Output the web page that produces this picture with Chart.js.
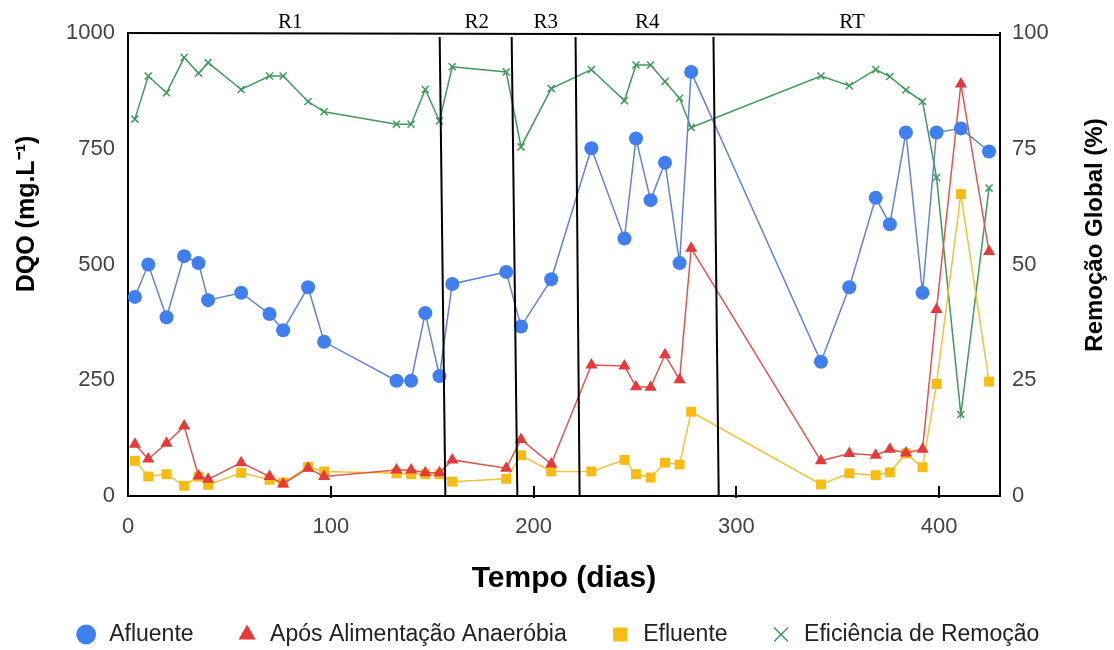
<!DOCTYPE html>
<html lang="pt">
<head>
<meta charset="utf-8">
<title>DQO e eficiência de remoção</title>
<script src="https://cdn.jsdelivr.net/npm/chart.js@4.4.1/dist/chart.umd.min.js"></script>
<style>
  html, body { margin:0; padding:0; background:#fff; }
  #wrap { width:1114px; height:650px; }
</style>
</head>
<body>
<div id="wrap"><canvas id="chDqo" width="1114" height="650"></canvas></div>
<script>
// tempo de operação (dias) — comum a todas as séries
const dias = [3.4, 10, 19, 27.7, 34.8, 39.5, 55.8, 69.8, 76.5, 88.8, 96.7, 132.4, 139.6, 146.6, 153.6,
  159.9, 186.5, 193.8, 208.7, 228.5, 244.8, 250.5, 257.7, 264.8, 272, 277.7,
  341.7, 355.7, 368.7, 375.7, 383.6, 391.8, 398.7, 410.7, 424.6];

// DQO (mg/L)
const afluente = [430, 500, 386, 518, 503, 423, 439, 393, 358, 451, 333, 249, 249, 395, 259,
  458, 484, 366, 468, 751, 556, 772, 639, 720, 503, 916,
  290, 451, 644, 587, 785, 439, 785, 794, 744];
const aposAlimentacao = [112, 80, 114, 151, 43, 36, 72, 42, 26, 60, 42, 56, 56, 50, 50,
  78, 60, 122, 69, 283, 281, 236, 235, 305, 251, 535,
  76, 92, 88, 101, 93, 101, 403, 890, 528];
const efluente = [76, 42, 47, 22, 42, 24, 50, 35, 29, 63, 53, 49, 47, 47, 47,
  31, 37, 88, 53, 53, 78, 47, 40, 72, 68, 182,
  25, 49, 45, 51, 92, 62, 242, 652, 247];

// remoção global (%)
const eficiencia = [81.4, 90.7, 87.1, 94.7, 91.3, 93.6, 87.8, 90.7, 90.7, 85.2, 83, 80.3, 80.3, 87.8, 81,
  92.7, 91.6, 75.4, 88, 92.1, 85.4, 93.1, 93.1, 89.5, 85.9, 79.6,
  90.7, 88.6, 92.1, 90.6, 87.7, 85.2, 68.8, 17.6, 66.5];

// fases de operação: limites (dias, topo/base do traço) e rótulos
const faseLimTopo = [153.7, 189.2, 220.7, 288.7];
const faseLimBase = [156.5, 192, 222.7, 291.3];
const faseNomes = ['R1', 'R2', 'R3', 'R4', 'RT'];
const faseCentros = [80, 172, 206, 256, 357];

const FONT = 'Arial, "Liberation Sans", sans-serif';
const pts = vals => vals.map((v, i) => ({ x: dias[i], y: v }));

const moldura = {
  id: 'moldura',
  afterDraw(chart){
    const { ctx, chartArea: a, scales: { x } } = chart;
    ctx.save();
    ctx.strokeStyle = '#000';
    ctx.lineWidth = 2;

    // borda superior
    ctx.beginPath(); ctx.moveTo(a.left - 1, a.top); ctx.lineTo(a.right + 1, a.top + 2); ctx.stroke();

    // marcas do eixo x, voltadas para dentro
    ctx.beginPath();
    x.ticks.forEach(t => {
      if (t.value <= 0) return;
      const px = Math.round(x.getPixelForValue(t.value));
      ctx.moveTo(px, a.bottom - 10); ctx.lineTo(px, a.bottom + 2);
    });
    ctx.stroke();

    // divisões das fases
    ctx.beginPath();
    faseLimTopo.forEach((d, i) => {
      ctx.moveTo(x.getPixelForValue(d), a.top + 4);
      ctx.lineTo(x.getPixelForValue(faseLimBase[i]), a.bottom);
    });
    ctx.stroke();

    ctx.fillStyle = '#000';
    ctx.font = '21px "Liberation Serif", "Times New Roman", serif';
    ctx.textAlign = 'center';
    ctx.textBaseline = 'middle';
    faseNomes.forEach((n, i) => ctx.fillText(n, x.getPixelForValue(faseCentros[i]), 22));

    // títulos dos eixos verticais
    ctx.fillStyle = '#000';
    [['DQO (mg.L\u207B\u00B9)', 27, 214, 25], ['Remoção Global (%)', 1095, 235, 24]].forEach(([t, cx, cy, fs]) => {
      ctx.save();
      ctx.font = 'bold ' + fs + 'px ' + FONT;
      ctx.translate(cx, cy);
      ctx.rotate(-Math.PI / 2);
      ctx.fillText(t, 0, 0);
      ctx.restore();
    });
    ctx.restore();
  }
};

const tickFont = { family: FONT, size: 22 };
const axisBorder = { display: true, color: '#000', width: 2 };
const plain = v => String(v);

new Chart(document.getElementById('chDqo'), {
  type: 'line',
  data: {
    datasets: [
      { label: 'Afluente', data: pts(afluente), yAxisID: 'y',
        borderColor: '#6283d6', borderWidth: 1.5, backgroundColor: '#4285F4',
        pointStyle: 'circle', pointRadius: 7, pointBorderWidth: 0, pointBackgroundColor: '#3f7ff0' },
      { label: 'Após Alimentação Anaeróbia', data: pts(aposAlimentacao), yAxisID: 'y',
        borderColor: '#e0564d', borderWidth: 1.5, backgroundColor: '#EA4335',
        pointStyle: 'triangle', pointRadius: 7, pointBorderWidth: 0, pointBackgroundColor: '#e5393a' },
      { label: 'Efluente', data: pts(efluente), yAxisID: 'y',
        borderColor: '#f2c23a', borderWidth: 1.5, backgroundColor: '#FBBC04',
        pointStyle: 'rect', pointRadius: 7, pointBorderWidth: 0, pointBackgroundColor: '#f7bb12' },
      { label: 'Eficiência de Remoção', data: pts(eficiencia), yAxisID: 'y2',
        borderColor: '#3f9a5c', borderWidth: 1.5, backgroundColor: '#3f9a5c',
        pointStyle: 'crossRot', pointRadius: 5, pointBorderWidth: 1.5, pointBorderColor: '#3f9a5c' }
    ]
  },
  options: {
    responsive: false,
    animation: false,
    devicePixelRatio: 1,
    layout: { padding: { top: 33, left: 0, right: 0, bottom: 0 } },
    elements: { line: { tension: 0 } },
    plugins: {
      tooltip: { enabled: false },
      legend: {
        position: 'bottom',
        maxHeight: 69,
        labels: { usePointStyle: true, boxHeight: 14, padding: 42, color: '#222', font: { family: FONT, size: 23 } }
      }
    },
    scales: {
      x: {
        type: 'linear', min: 0, max: 430,
        grid: { display: false },
        border: axisBorder,
        ticks: { stepSize: 100, includeBounds: false, padding: 10, color: '#444', font: tickFont, callback: plain },
        title: { display: true, text: 'Tempo (dias)', color: '#000', font: { family: FONT, size: 30, weight: 'bold' }, padding: { top: 0, bottom: -16 } },
        afterFit: s => { s.height = 85; }
      },
      y: {
        position: 'left', min: 0, max: 1000,
        grid: { display: false },
        border: axisBorder,
        ticks: { stepSize: 250, padding: 5, color: '#444', font: tickFont, callback: plain },
        afterFit: s => { s.width = 128; }
      },
      y2: {
        position: 'right', min: 0, max: 100,
        grid: { display: false },
        border: axisBorder,
        ticks: { stepSize: 25, padding: 4, color: '#444', font: tickFont, callback: plain },
        afterFit: s => { s.width = 114; }
      }
    }
  },
  plugins: [moldura]
});
</script>
</body>
</html>
